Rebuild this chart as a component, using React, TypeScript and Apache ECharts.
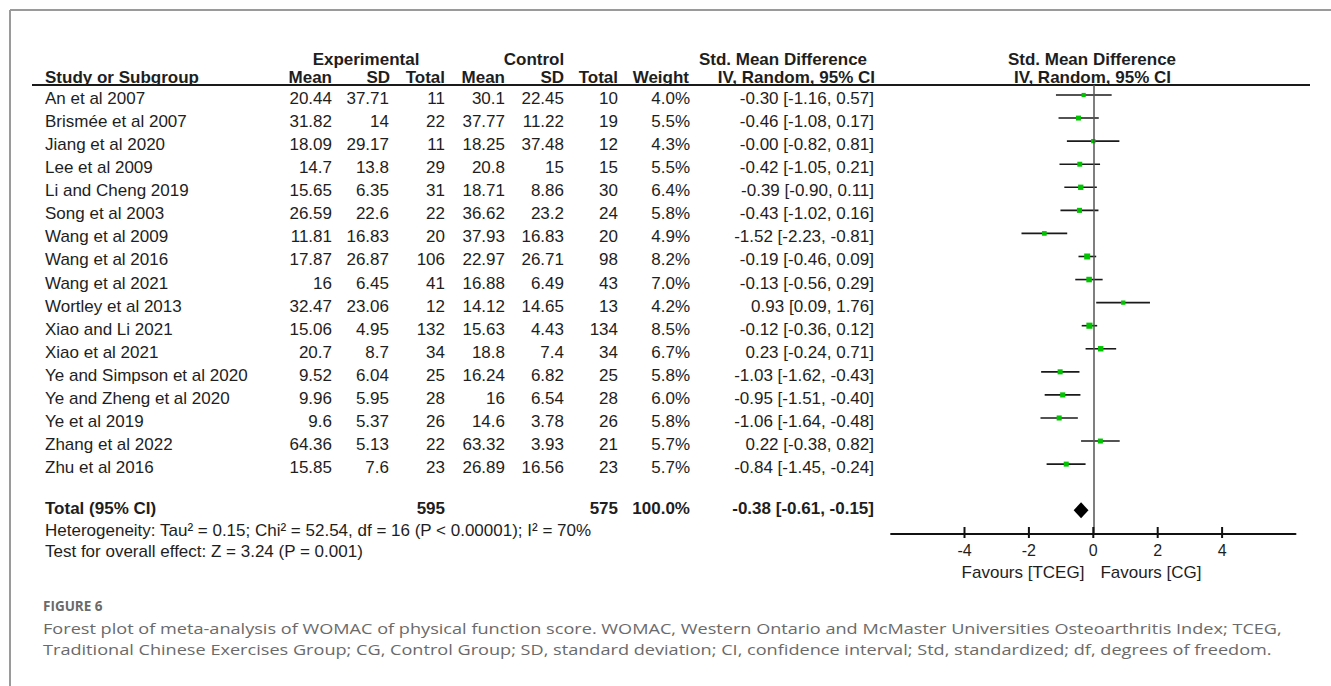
import React, { useEffect, useRef } from 'react';
import * as echarts from 'echarts';

const studies = [
  'An et al 2007', 'Brismée  et al 2007', 'Jiang et  al  2020', 'Lee et al 2009', 'Li and Cheng  2019',
  'Song et al  2003', 'Wang et al  2009', 'Wang et al  2016', 'Wang et al  2021', 'Wortley et al   2013',
  'Xiao and Li  2021', 'Xiao et al 2021', 'Ye and Simpson et al 2020', 'Ye and Zheng et al 2020',
  'Ye et al  2019', 'Zhang et al  2022', 'Zhu et al  2016',
];
const expMean = [20.44, 31.82, 18.09, 14.7, 15.65, 26.59, 11.81, 17.87, 16, 32.47, 15.06, 20.7, 9.52, 9.96, 9.6, 64.36, 15.85];
const expSD = [37.71, 14, 29.17, 13.8, 6.35, 22.6, 16.83, 26.87, 6.45, 23.06, 4.95, 8.7, 6.04, 5.95, 5.37, 5.13, 7.6];
const expN = [11, 22, 11, 29, 31, 22, 20, 106, 41, 12, 132, 34, 25, 28, 26, 22, 23];
const ctrlMean = [30.1, 37.77, 18.25, 20.8, 18.71, 36.62, 37.93, 22.97, 16.88, 14.12, 15.63, 18.8, 16.24, 16, 14.6, 63.32, 26.89];
const ctrlSD = [22.45, 11.22, 37.48, 15, 8.86, 23.2, 16.83, 26.71, 6.49, 14.65, 4.43, 7.4, 6.82, 6.54, 3.78, 3.93, 16.56];
const ctrlN = [10, 19, 12, 15, 30, 24, 20, 98, 43, 13, 134, 34, 25, 28, 26, 21, 23];
const weights = [4.0, 5.5, 4.3, 5.5, 6.4, 5.8, 4.9, 8.2, 7.0, 4.2, 8.5, 6.7, 5.8, 6.0, 5.8, 5.7, 5.7];
const smd = [-0.30, -0.46, -0.00, -0.42, -0.39, -0.43, -1.52, -0.19, -0.13, 0.93, -0.12, 0.23, -1.03, -0.95, -1.06, 0.22, -0.84];
const ciLow = [-1.16, -1.08, -0.82, -1.05, -0.90, -1.02, -2.23, -0.46, -0.56, 0.09, -0.36, -0.24, -1.62, -1.51, -1.64, -0.38, -1.45];
const ciHigh = [0.57, 0.17, 0.81, 0.21, 0.11, 0.16, -0.81, 0.09, 0.29, 1.76, 0.12, 0.71, -0.43, -0.40, -0.48, 0.82, -0.24];

const totalExpN = 595;
const totalCtrlN = 575;
const totalWeight = 100.0;
const totalSmd = -0.38;
const totalLow = -0.61;
const totalHigh = -0.15;
const totalRow = 18;

const heterogeneityText = 'Heterogeneity: Tau² = 0.15; Chi² = 52.54, df = 16 (P < 0.00001); I² = 70%';
const overallText = 'Test for overall effect: Z = 3.24 (P = 0.001)';
const axisTicks = [-4, -2, 0, 2, 4];
const favoursLeft = 'Favours [TCEG]';
const favoursRight = 'Favours [CG]';
const figureLabel = 'FIGURE 6';
const captionLine1 = 'Forest plot of meta-analysis of WOMAC of physical function score. WOMAC, Western Ontario and McMaster Universities Osteoarthritis Index; TCEG,';
const captionLine2 = 'Traditional Chinese Exercises Group; CG, Control Group; SD, standard deviation; CI, confidence interval; Std, standardized; df, degrees of freedom.';

const FAM = '"Liberation Sans", Arial, sans-serif';
const fontReg = `17px ${FAM}`;
const fontBold = `bold 17px ${FAM}`;
const INK = '#1e1e1e';

const f2 = (v: number) => ((v < 0 || Object.is(v, -0)) ? '-' : '') + Math.abs(v).toFixed(2);
const ciText = (m: number, l: number, h: number) => `${f2(m)} [${f2(l)}, ${f2(h)}]`;

function txt(x: number, y: number, text: string, align: string, font: string, fill = INK, extra: any = {}) {
  return {
    type: 'text', x, y, silent: true, ...extra,
    style: { text, x: 0, y: 0, font, fill, align, verticalAlign: 'middle', textAlign: align, textVerticalAlign: 'middle' },
  };
}

function measure(text: string, font: string) {
  const ctx = document.createElement('canvas').getContext('2d');
  if (!ctx) return 1;
  ctx.font = font;
  return ctx.measureText(text).width || 1;
}

// column right edges
const COL = { label: 45, expMean: 332, expSD: 389, expN: 445, ctrlMean: 505, ctrlSD: 564, ctrlN: 618, weight: 690, ci: 874 };
const TEXT_DY = 3.5;

export default function App() {
  const ref = useRef<HTMLDivElement>(null);
  useEffect(() => {
    if (!ref.current) return;
    const chart = echarts.init(ref.current, undefined, { renderer: 'svg' });

    const capFont = `15px "Open Sans", "Noto Sans", sans-serif`;
    const capScale = 255 / measure('Forest plot of meta-analysis of', capFont);

    const rowTop = 95, rowStep = 23.07, gridTop = 85, axisY = 533.3;
    const zeroX = 1093.3, pxPerUnit = 32.2, xMax = 6.28;
    const yMin = (gridTop - rowTop) / rowStep;
    const yMax = (axisY - rowTop) / rowStep;

    const option: any = {
      animation: false,
      grid: { left: zeroX - xMax * pxPerUnit, top: gridTop, width: 2 * xMax * pxPerUnit, height: axisY - gridTop },
      xAxis: {
        type: 'value', min: -xMax, max: xMax, position: 'bottom',
        axisLine: { show: true, onZero: false, lineStyle: { color: '#111', width: 2 } },
        axisTick: { show: false },
        axisLabel: { show: true, customValues: axisTicks, margin: 9, fontSize: 16, fontFamily: FAM, color: INK, formatter: (v: number) => String(v) },
        splitLine: { show: false },
      },
      yAxis: { type: 'value', inverse: true, show: false, min: yMin, max: yMax },
      series: [
        {
          type: 'custom', name: 'studies', coordinateSystem: 'cartesian2d', clip: false,
          data: smd.map((m, i) => [ciLow[i], ciHigh[i], m, i, weights[i]]),
          encode: { x: [0, 1, 2], y: 3 },
          renderItem: (params: any, api: any) => {
            const lo = api.coord([api.value(0), api.value(3)]);
            const hi = api.coord([api.value(1), api.value(3)]);
            const c = api.coord([api.value(2), api.value(3)]);
            const s = 2.1 * Math.sqrt(api.value(4));
            return {
              type: 'group',
              children: [
                { type: 'line', shape: { x1: lo[0], y1: lo[1], x2: hi[0], y2: hi[1] }, style: { stroke: '#1a1a1a', lineWidth: 1.6 } },
                { type: 'rect', shape: { x: c[0] - s / 2, y: c[1] - s / 2, width: s, height: s }, style: { fill: '#00c400' } },
              ],
            };
          },
          markLine: {
            silent: true, symbol: 'none', animation: false,
            label: { show: false },
            lineStyle: { color: '#555', width: 1.5, type: 'solid' },
            data: [{ xAxis: 0 }],
          },
          z: 3,
        },
        {
          type: 'custom', name: 'total', coordinateSystem: 'cartesian2d', clip: false,
          data: [[totalLow, totalHigh, totalSmd, totalRow]],
          encode: { x: [0, 1, 2], y: 3 },
          renderItem: (params: any, api: any) => {
            const lo = api.coord([api.value(0), api.value(3)]);
            const hi = api.coord([api.value(1), api.value(3)]);
            const c = api.coord([api.value(2), api.value(3)]);
            const h = 8;
            return {
              type: 'polygon',
              shape: { points: [[lo[0], lo[1]], [c[0], c[1] - h], [hi[0], hi[1]], [c[0], c[1] + h]] },
              style: { fill: '#000' },
            };
          },
          z: 4,
        },
        {
          type: 'custom', name: 'ticks', coordinateSystem: 'cartesian2d', clip: false, silent: true,
          data: axisTicks.map((v) => [v, yMax]),
          encode: { x: 0, y: 1 },
          renderItem: (params: any, api: any) => {
            const p = api.coord([api.value(0), api.value(1)]);
            return {
              type: 'line',
              shape: { x1: p[0], y1: p[1] - 6.3, x2: p[0], y2: p[1] + 4.7 },
              style: { stroke: '#111', lineWidth: 2 },
            };
          },
          z: 5,
        },
        {
          type: 'custom', name: 'table', coordinateSystem: 'cartesian2d', clip: false, silent: true,
          data: studies.map((_, i) => [0, i]),
          encode: { x: 0, y: 1 },
          renderItem: (params: any, api: any) => {
            const i = params.dataIndex;
            const y = api.coord([0, api.value(1)])[1] + TEXT_DY;
            return {
              type: 'group',
              children: [
                txt(COL.label, y, studies[i].replace(/ +/g, ' '), 'left', fontReg),
                txt(COL.expMean, y, String(expMean[i]), 'right', fontReg),
                txt(COL.expSD, y, String(expSD[i]), 'right', fontReg),
                txt(COL.expN, y, String(expN[i]), 'right', fontReg),
                txt(COL.ctrlMean, y, String(ctrlMean[i]), 'right', fontReg),
                txt(COL.ctrlSD, y, String(ctrlSD[i]), 'right', fontReg),
                txt(COL.ctrlN, y, String(ctrlN[i]), 'right', fontReg),
                txt(COL.weight, y, weights[i].toFixed(1) + '%', 'right', fontReg),
                txt(COL.ci, y, ciText(smd[i], ciLow[i], ciHigh[i]), 'right', fontReg),
              ],
            };
          },
        },
        {
          type: 'custom', name: 'totalRow', coordinateSystem: 'cartesian2d', clip: false, silent: true,
          data: [[0, totalRow]],
          encode: { x: 0, y: 1 },
          renderItem: (params: any, api: any) => {
            const y = api.coord([0, api.value(1)])[1] - 2;
            return {
              type: 'group',
              children: [
                txt(COL.label, y, 'Total (95% CI)', 'left', fontBold),
                txt(COL.expN, y, String(totalExpN), 'right', fontBold),
                txt(COL.ctrlN, y, String(totalCtrlN), 'right', fontBold),
                txt(COL.weight, y, totalWeight.toFixed(1) + '%', 'right', fontBold),
                txt(COL.ci, y, ciText(totalSmd, totalLow, totalHigh), 'right', fontBold),
              ],
            };
          },
        },
      ],
      graphic: [
        { type: 'line', silent: true, shape: { x1: 10, y1: 10, x2: 1331, y2: 10 }, style: { stroke: '#9a9a9a', lineWidth: 2 } },
        { type: 'line', silent: true, shape: { x1: 10, y1: 10, x2: 10, y2: 686 }, style: { stroke: '#9a9a9a', lineWidth: 2 } },
        { type: 'line', silent: true, shape: { x1: 32, y1: 85, x2: 1310, y2: 85 }, style: { stroke: '#1a1a1a', lineWidth: 2 } },
        txt(366, 59.5, 'Experimental', 'center', fontBold),
        txt(534, 59.5, 'Control', 'center', fontBold),
        txt(783, 59.5, 'Std. Mean Difference', 'center', fontBold),
        txt(1092, 59.5, 'Std. Mean Difference', 'center', fontBold),
        txt(COL.label, 77, 'Study or Subgroup', 'left', fontBold),
        txt(332, 77, 'Mean', 'right', fontBold),
        txt(390, 77, 'SD', 'right', fontBold),
        txt(445, 77, 'Total', 'right', fontBold),
        txt(505, 77, 'Mean', 'right', fontBold),
        txt(564, 77, 'SD', 'right', fontBold),
        txt(618, 77, 'Total', 'right', fontBold),
        txt(689, 77, 'Weight', 'right', fontBold),
        txt(875, 77, 'IV, Random, 95% CI', 'right', fontBold),
        txt(1092.5, 77, 'IV, Random, 95% CI', 'center', fontBold),
        txt(COL.label, 530, heterogeneityText, 'left', fontReg),
        txt(COL.label, 551, overallText, 'left', fontReg),
        txt(1023, 572, favoursLeft, 'center', fontReg),
        txt(1151, 572, favoursRight, 'center', fontReg),
        txt(43, 606, figureLabel, 'left', `bold 13.5px "Open Sans", "Noto Sans", sans-serif`, '#6a6a6a'),
        txt(43, 628.5, captionLine1, 'left', capFont, '#6a6a6a', { scaleX: capScale }),
        txt(43, 649.5, captionLine2, 'left', capFont, '#6a6a6a', { scaleX: capScale }),
      ],
    };
    chart.setOption(option);
    return () => chart.dispose();
  }, []);
  return <div ref={ref} style={{ position: 'absolute', left: 0, top: 0, width: 1331, height: 686, background: '#fff' }} />;
}
